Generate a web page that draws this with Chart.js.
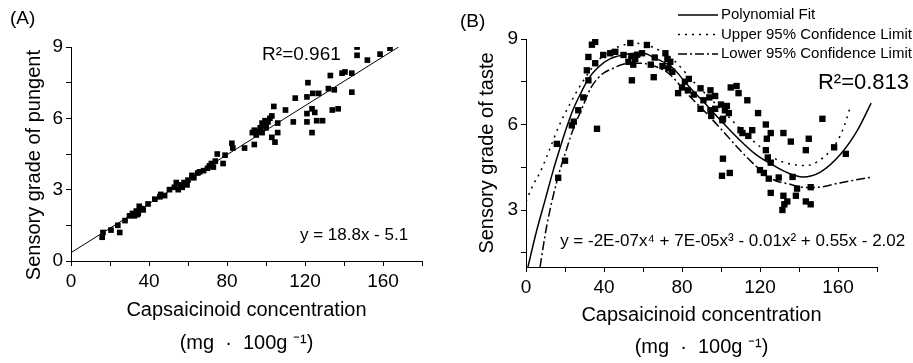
<!DOCTYPE html>
<html>
<head>
<meta charset="utf-8">
<script src="https://cdn.jsdelivr.net/npm/chart.js@4.4.1/dist/chart.umd.min.js"></script>
<style>
  html, body { margin: 0; padding: 0; background: #fff; }
  #wrap { position: relative; width: 913px; height: 363px; }
  #panelA { position: absolute; left: 0; top: 0; }
  #panelB { position: absolute; left: 455px; top: 0; }
</style>
</head>
<body>
<div id="wrap">
  <canvas id="panelA" width="455" height="363"></canvas>
  <canvas id="panelB" width="458" height="363"></canvas>
</div>
<script>
// axis ticks (shared x axis layout)
const xTicks = [0, 20, 40, 60, 80, 100, 120, 140, 160, 180];
const xLabels = [0, 40, 80, 120, 160];
const yTicksA = [0, 1.5, 3, 4.5, 6, 7.5, 9];
const yTicksB = [1.5, 3, 4.5, 6, 7.5, 9];
const yLabels = [0, 3, 6, 9];

// (A) pungent grade vs capsaicinoid
const pungentX = [16, 16.4, 20.5, 24, 25, 27.7, 30, 31.5, 32.5, 33.5, 34.5, 35, 36, 37, 34,
  39.5, 43, 45.6, 46, 48, 50.5, 53, 54, 55, 56, 57, 58, 59.5, 60, 62, 63, 65, 66, 68, 70,
  71, 72, 73, 74, 75, 78, 79, 82.5, 83, 89, 94, 93, 95, 96, 98, 94, 97, 98, 99.5, 100,
  100, 101, 102, 103, 104, 106, 103, 106, 104.6, 110, 114, 115, 121, 121, 121, 121.5, 124,
  127, 123.6, 125, 126, 123.6, 129, 132, 133, 135, 134, 137, 139, 140.5, 144, 144, 146.7,
  146.7, 152, 158.5, 163.6];
const pungentY = [1.0, 1.2, 1.3, 1.5, 1.2, 1.7, 1.9, 2.0, 1.9, 2.1, 2.0, 2.3, 2.2, 2.15, 1.95,
  2.4, 2.6, 2.7, 2.8, 2.75, 3.0, 3.1, 3.3, 3.0, 3.2, 3.1, 3.3, 3.2, 3.4, 3.6, 3.5, 3.7, 3.75, 3.8, 3.9,
  4.0, 4.1, 3.95, 4.2, 4.5, 4.1, 4.45, 4.95, 4.75, 4.75, 4.9, 5.4, 5.3, 5.45, 5.4, 5.5, 5.6, 5.8, 5.9, 5.7,
  5.6, 5.85, 6.0, 6.1, 6.5, 5.8, 5.2, 5.4, 5.0, 6.35, 5.85, 6.85, 6.9, 5.85, 6.2, 7.5, 7.05,
  7.05, 6.4, 6.25, 5.9, 5.4, 5.9, 7.25, 7.8, 7.2, 6.35, 6.4, 7.9, 7.95, 7.9, 7.1, 8.65,
  9.0, 8.45, 8.7, 8.95];
const linFitX = [0, 168];
const linFitY = [0.35, 9.0];

// (B) taste grade vs capsaicinoid
const tasteX = [15.8, 20, 16.5, 23.5, 24.5, 26.8, 29.4, 32, 31.2, 32, 33.8, 35.5, 35.5, 36.4,
  39.6, 43.2, 45.8, 50, 53.5, 52.5, 54, 56, 57, 55, 54.3, 62, 64, 65.5, 59.5, 66, 70, 71.5,
  72.5, 74, 73, 75, 78, 80, 81.5, 83, 83.5, 86, 89.5, 91, 94.6, 94, 89.5, 94.6, 95, 97, 97,
  100, 102, 101, 104, 103, 100.7, 105, 108, 109, 113.5, 110, 111, 114, 116, 101, 100.5, 104.5,
  119, 123, 125.5, 123.5, 123, 124, 125.5, 122, 124.5, 120, 132, 135.8, 143.5, 145, 152, 158,
  164, 129.6, 136.7, 125.5, 132, 134, 132.5, 131.5, 138.4, 139, 143.5, 146, 146];
const tasteY = [5.32, 4.73, 4.13, 5.97, 6.1, 6.5, 6.95, 7.55, 7.9, 8.37, 8.8, 8.9, 8.15, 5.85,
  8.44, 8.5, 8.55, 8.44, 8.86, 8.2, 8.4, 8.3, 8.45, 8.1, 7.55, 8.79, 8.1, 7.66, 8.5, 8.35, 8.05, 8.5,
  8.3, 8.2, 7.97, 7.85, 7.1, 7.3, 7.5, 7.2, 7.6, 7.05, 7.27, 6.85, 7.2, 6.95, 6.55, 6.5, 6.3, 6.55, 7.0,
  6.7, 6.5, 6.2, 6.4, 6.65, 6.15, 7.3, 7.35, 7.1, 6.85, 5.8, 5.7, 5.6, 5.8, 4.8, 4.2, 4.3,
  6.4, 6.0, 5.7, 5.5, 5.1, 4.84, 4.66, 4.3, 4.1, 4.4, 5.7, 5.4, 5.1, 5.5, 6.2, 5.2,
  4.97, 4.14, 4.16, 3.6, 3.5, 3.3, 3.2, 3.0, 3.5, 3.75, 3.3, 3.2, 3.8];
const polyX = [1, 5, 10, 14, 18, 20.6, 24, 27.4, 32, 36.9, 43, 49.7, 56, 60, 66.4, 75, 83.3, 92,
  100.7, 109.2, 117.8, 125.5, 135, 141.8, 151, 161.5, 170, 177];
const polyY = [1.0, 2.15, 3.4, 4.4, 5.3, 5.85, 6.5, 7.0, 7.6, 8.0, 8.3, 8.44, 8.5, 8.5, 8.32, 8.0, 7.35, 6.73,
  6.08, 5.48, 4.95, 4.62, 4.28, 4.16, 4.33, 4.97, 5.8, 6.75];
const upperX = [0, 3.8, 7.2, 11.5, 16.6, 22.6, 29.5, 37.2, 47.5, 56, 66.4, 76.6, 85.2, 93.8, 104,
  114.4, 120.4, 127.2, 135.8, 144, 150, 155, 159.8, 163.2, 166];
const upperY = [3.3, 3.9, 4.32, 5.02, 5.9, 6.73, 7.55, 8.26, 8.73, 8.85, 8.67, 8.2, 7.55, 6.96, 6.26,
  5.55, 5.2, 4.82, 4.61, 4.56, 4.72, 5.0, 5.43, 5.95, 6.55];
const lowerX = [7.2, 10.6, 15.8, 21.4, 24, 28.3, 33.4, 39.5, 44, 51.4, 58, 64.6, 73.2, 83.5, 92,
  100.7, 109.2, 117.8, 126.4, 135, 143.5, 150, 161.5, 177.8];
const lowerY = [1.0, 2.43, 4.0, 5.26, 5.8, 6.5, 7.3, 7.79, 7.95, 8.14, 8.15, 8.08, 7.79, 7.02, 6.43,
  5.79, 5.14, 4.55, 4.08, 3.91, 3.79, 3.8, 3.96, 4.16];

const fontFamily = '"Liberation Sans", Arial, sans-serif';
Chart.defaults.font.family = fontFamily;
Chart.defaults.color = '#000';

const toPoints = (xs, ys) => xs.map((x, i) => ({ x: x, y: ys[i] }));

// free text inside / around the plot
const notesPlugin = {
  id: 'notes',
  afterDraw(chart, args, opts) {
    if (!opts || !opts.items) return;
    const ctx = chart.ctx;
    const xs = chart.scales.x, ys = chart.scales.y;
    ctx.save();
    ctx.fillStyle = '#000';
    ctx.textBaseline = 'middle';
    opts.items.forEach(n => {
      const px = n.px !== undefined ? n.px : xs.getPixelForValue(n.x);
      const py = n.py !== undefined ? n.py : ys.getPixelForValue(n.y);
      ctx.font = n.size + 'px ' + fontFamily;
      ctx.textAlign = n.align || 'left';
      ctx.fillText(n.text, px, py);
    });
    ctx.restore();
  }
};

// line key drawn from the datasets' own styles
const lineKeyPlugin = {
  id: 'lineKey',
  afterDraw(chart, args, opts) {
    if (!opts || !opts.rows) return;
    const ctx = chart.ctx;
    ctx.save();
    ctx.fillStyle = '#000';
    ctx.textBaseline = 'middle';
    ctx.textAlign = 'left';
    ctx.font = opts.size + 'px ' + fontFamily;
    opts.rows.forEach((idx, i) => {
      const ds = chart.data.datasets[idx];
      const y = opts.top + i * opts.gap;
      ctx.strokeStyle = ds.borderColor;
      ctx.lineWidth = ds.borderWidth;
      ctx.setLineDash(ds.borderDash || []);
      ctx.beginPath();
      ctx.moveTo(opts.left, y);
      ctx.lineTo(opts.left + opts.len, y);
      ctx.stroke();
      ctx.setLineDash([]);
      ctx.fillText(ds.label, opts.left + opts.len + 3, y);
    });
    ctx.restore();
  }
};

Chart.register(notesPlugin, lineKeyPlugin);

function axisX(height, titleLines, lineHeight, padBottom) {
  return {
    type: 'linear',
    min: 0,
    max: 180,
    afterBuildTicks: s => { s.ticks = xTicks.map(v => ({ value: v })); },
    afterFit: s => { s.height = height; },
    border: { display: true, color: '#000', width: 1 },
    grid: { drawOnChartArea: false, drawTicks: true, tickLength: 5, color: '#000' },
    ticks: {
      autoSkip: false,
      maxRotation: 0,
      padding: 4,
      font: { size: 19 },
      callback: v => xLabels.includes(v) ? String(v) : ''
    },
    title: {
      display: true,
      text: titleLines,
      font: { size: 20, lineHeight: lineHeight },
      padding: { top: 0, bottom: padBottom }
    }
  };
}

function axisY(min, tickList, title, padTop) {
  return {
    type: 'linear',
    min: min,
    max: 9,
    afterBuildTicks: s => { s.ticks = tickList.map(v => ({ value: v })); },
    afterFit: s => { s.width = 71; },
    border: { display: true, color: '#000', width: 1 },
    grid: { drawOnChartArea: false, drawTicks: true, tickLength: 5, color: '#000' },
    ticks: {
      autoSkip: false,
      padding: 3,
      font: { size: 19 },
      callback: v => yLabels.includes(v) ? String(v) : ''
    },
    title: {
      display: true,
      text: title,
      font: { size: 20 },
      padding: { top: padTop, bottom: 0 }
    }
  };
}

const xTitle = ['Capsaicinoid concentration', '(mg  \u00b7  100g \u207b\u00b9)'];

// Panel A
new Chart(document.getElementById('panelA').getContext('2d'), {
  type: 'scatter',
  data: {
    datasets: [
      {
        label: 'Pungent',
        data: toPoints(pungentX, pungentY),
        pointStyle: 'rect',
        pointRadius: 4,
        backgroundColor: '#000',
        borderWidth: 0
      },
      {
        label: 'Linear Fit',
        data: toPoints(linFitX, linFitY),
        showLine: true,
        pointRadius: 0,
        borderColor: '#000',
        borderWidth: 1
      }
    ]
  },
  options: {
    responsive: false,
    animation: false,
    layout: { padding: { left: 0, right: 33, top: 47, bottom: 0 } },
    scales: {
      x: axisX(102, xTitle, 1.65, 3.5),
      y: axisY(0, yTicksA, 'Sensory grade of pungent    ', 22)
    },
    plugins: {
      legend: { display: false },
      tooltip: { enabled: false },
      notes: {
        items: [
          { text: '(A)', px: 10, py: 19, size: 19 },
          { text: 'R\u00b2=0.961', x: 98, y: 8.66, size: 19 },
          { text: 'y = 18.8x - 5.1', x: 117.4, y: 1.09, size: 17 }
        ]
      }
    }
  }
});

// Panel B
new Chart(document.getElementById('panelB').getContext('2d'), {
  type: 'scatter',
  data: {
    datasets: [
      {
        label: 'Taste',
        data: toPoints(tasteX, tasteY),
        pointStyle: 'rect',
        pointRadius: 4.5,
        backgroundColor: '#000',
        borderWidth: 0
      },
      {
        label: 'Polynomial Fit',
        data: toPoints(polyX, polyY),
        showLine: true,
        pointRadius: 0,
        borderColor: '#000',
        borderWidth: 1.5,
        cubicInterpolationMode: 'monotone'
      },
      {
        label: 'Upper 95% Confidence Limit',
        data: toPoints(upperX, upperY),
        showLine: true,
        pointRadius: 0,
        borderColor: '#000',
        borderWidth: 1.5,
        borderDash: [2, 5],
        cubicInterpolationMode: 'monotone'
      },
      {
        label: 'Lower 95% Confidence Limit',
        data: toPoints(lowerX, lowerY),
        showLine: true,
        pointRadius: 0,
        borderColor: '#000',
        borderWidth: 1.5,
        borderDash: [9, 3, 2, 3],
        cubicInterpolationMode: 'monotone'
      }
    ]
  },
  options: {
    responsive: false,
    animation: false,
    layout: { padding: { left: 0, right: 36, top: 39, bottom: 0 } },
    scales: {
      x: axisX(96, xTitle, 1.6, 0),
      y: axisY(1, yTicksB, 'Sensory grade of taste', 20)
    },
    plugins: {
      legend: { display: false },
      tooltip: { enabled: false },
      lineKey: { rows: [1, 2, 3], left: 223, len: 40, top: 15, gap: 19.5, size: 15 },
      notes: {
        items: [
          { text: '(B)', px: 5, py: 22, size: 19 },
          { text: 'R\u00b2=0.813', x: 149.7, y: 7.45, size: 22 },
          { text: 'y = -2E-07x\u2074 + 7E-05x\u00b3 - 0.01x\u00b2 + 0.55x - 2.02', x: 17.5, y: 1.9, size: 17 }
        ]
      }
    }
  }
});
</script>
</body>
</html>
